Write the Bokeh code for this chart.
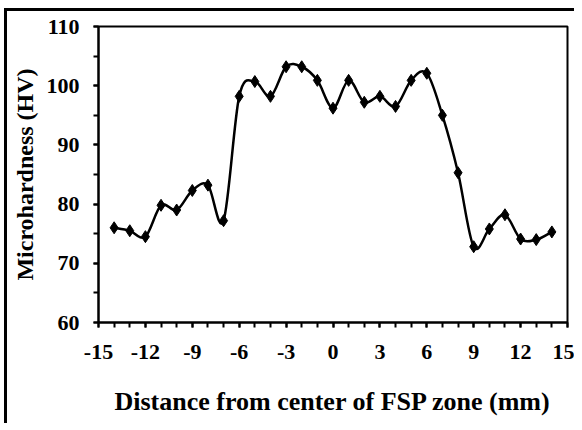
from bokeh.plotting import figure
from bokeh.models import Range1d, FixedTicker, ColumnDataSource, CustomJSTickFormatter
from bokeh.embed import file_html
from bokeh.resources import INLINE

distance = [-14, -13, -12, -11, -10, -9, -8, -7, -6, -5, -4, -3, -2, -1, 0,
            1, 2, 3, 4, 5, 6, 7, 8, 9, 10, 11, 12, 13, 14]
hardness = [76.0, 75.5, 74.5, 79.8, 79.0, 82.3, 83.2, 77.2, 98.2, 100.7, 98.2, 103.2, 103.2, 100.9, 96.2,
            100.9, 97.2, 98.2, 96.5, 100.9, 102.1, 95.0, 85.3, 72.8, 75.8, 78.2, 74.1, 74.0, 75.3]
x_ticks = [-15, -12, -9, -6, -3, 0, 3, 6, 9, 12, 15]
x_minor = list(range(-15, 16))
y_ticks = [60, 70, 80, 90, 100, 110]
y_minor = [60, 65, 70, 75, 80, 85, 90, 95, 100, 105, 110]

FONT = "Liberation Serif"

# smoothed (Excel-style) line segments: cubic Bezier control points from neighbouring data
n = len(distance)
x0, y0, x1, y1, cx0, cy0, cx1, cy1 = [], [], [], [], [], [], [], []
for i in range(n - 1):
    xp, yp = (distance[i - 1], hardness[i - 1]) if i > 0 else (distance[i], hardness[i])
    xn, yn = (distance[i + 2], hardness[i + 2]) if i + 2 < n else (distance[i + 1], hardness[i + 1])
    x0.append(distance[i]); y0.append(hardness[i])
    x1.append(distance[i + 1]); y1.append(hardness[i + 1])
    cx0.append(distance[i] + (distance[i + 1] - xp) / 6.0)
    cy0.append(hardness[i] + (hardness[i + 1] - yp) / 6.0)
    cx1.append(distance[i + 1] - (xn - distance[i]) / 6.0)
    cy1.append(hardness[i + 1] - (yn - hardness[i]) / 6.0)

seg = ColumnDataSource(dict(x0=x0, y0=y0, x1=x1, y1=y1, cx0=cx0, cy0=cy0, cx1=cx1, cy1=cy1))
src = ColumnDataSource(dict(x=distance, y=hardness))

p = figure(width=570, height=415, output_backend="svg", toolbar_location=None,
           x_range=Range1d(-15, 15), y_range=Range1d(60, 110),
           min_border_left=91, min_border_right=10, min_border_top=15, min_border_bottom=104)
p.styles = {"border-left": "3px solid black", "border-top": "3px solid black",
            "margin-left": "4px", "margin-top": "8px"}

p.bezier(x0="x0", y0="y0", x1="x1", y1="y1", cx0="cx0", cy0="cy0", cx1="cx1", cy1="cy1",
         source=seg, line_color="black", line_width=2.5)
p.scatter("x", "y", source=src, marker="diamond", size=12, fill_color="black", line_color="black")

p.grid.visible = False
p.outline_line_color = "black"
p.outline_line_width = 2
p.background_fill_color = "white"
p.border_fill_color = "white"

p.xaxis.ticker = FixedTicker(ticks=x_ticks, minor_ticks=x_minor)
p.yaxis.ticker = FixedTicker(ticks=y_ticks, minor_ticks=y_minor)
fmt = "return String(tick);"
p.xaxis.formatter = CustomJSTickFormatter(code=fmt)
p.yaxis.formatter = CustomJSTickFormatter(code=fmt)

for ax in (p.xaxis[0], p.yaxis[0]):
    ax.axis_line_color = "black"
    ax.axis_line_width = 2
    ax.major_tick_line_color = "black"
    ax.major_tick_line_width = 2
    ax.minor_tick_line_color = "black"
    ax.minor_tick_line_width = 2
    ax.major_tick_in = 0
    ax.major_tick_out = 5
    ax.minor_tick_in = 0
    ax.minor_tick_out = 5
    ax.major_label_text_font = FONT
    ax.major_label_text_font_style = "bold"
    ax.major_label_text_font_size = "22px"
    ax.major_label_text_color = "black"
    ax.axis_label_text_font = FONT
    ax.axis_label_text_font_style = "bold"
    ax.axis_label_text_color = "black"

p.xaxis.axis_label = "Distance from center of FSP zone (mm)"
p.yaxis.axis_label = "Microhardness (HV)"
p.xaxis.axis_label_text_font_size = "26px"
p.yaxis.axis_label_text_font_size = "24px"
p.xaxis.major_label_standoff = 17
p.xaxis.axis_label_standoff = 25
p.yaxis.major_label_standoff = 14
p.yaxis.axis_label_standoff = 6

open("out.html", "w").write(file_html(p, INLINE))
